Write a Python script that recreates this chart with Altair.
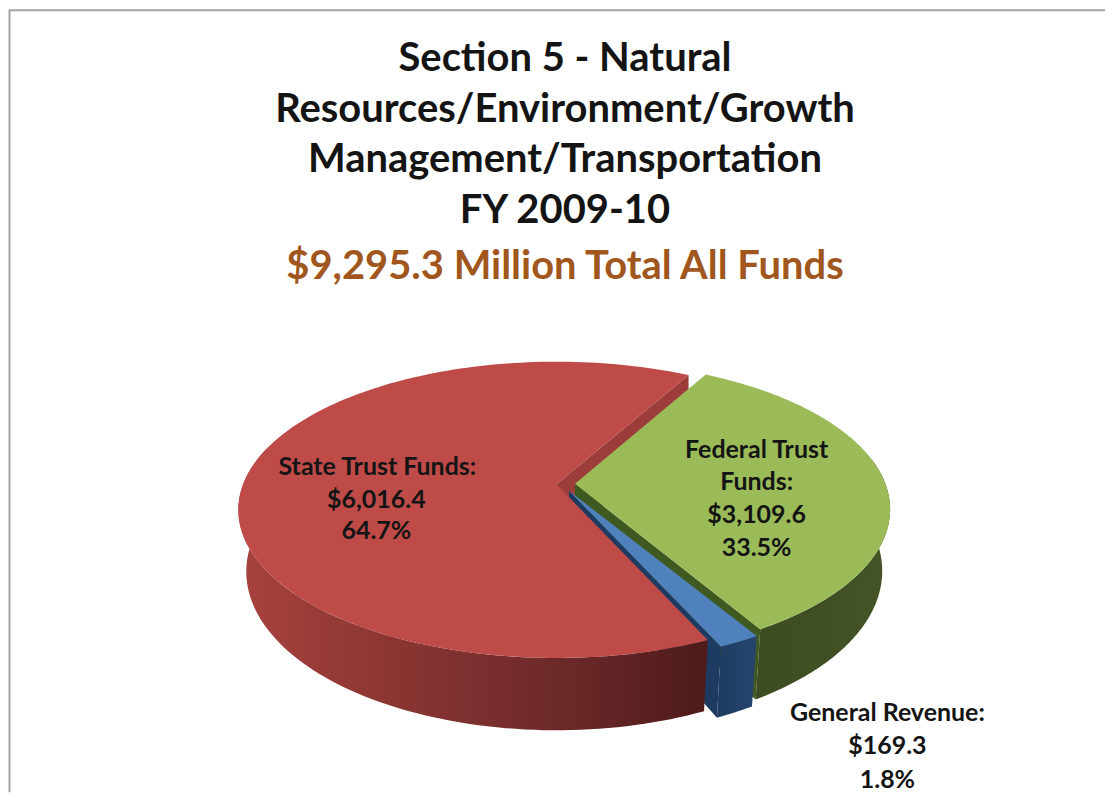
import numpy as np
import pandas as pd
import altair as alt

# ---- chart values -------------------------------------------------
CATEGORIES = ["Federal Trust Funds", "General Revenue", "State Trust Funds"]
AMOUNTS = [3109.6, 169.3, 6016.4]
SHARES = [33.5, 1.8, 64.7]
TITLE_LINES = [
    "Section 5 - Natural",
    "Resources/Environment/Growth",
    "Management/Transportation",
    "FY 2009-10",
]
SUBTITLE = "$9,295.3 Million Total All Funds"

# ---- drawing setup (how the pie is projected, not data) -------------
W, H = 1098, 784
START_DEG = 29.0          # pie rotation
RY, PERSP = 144.0, 0.172
DEPTH = 60.0
BOTTOM_SCALE = 0.975
RADIUS = {"Federal Trust Funds": 311.0, "General Revenue": 315.0, "State Trust Funds": 314.0}
APEX = {"Federal Trust Funds": (575, 483), "General Revenue": (569, 490), "State Trust Funds": (556.5, 483.5)}
COLORS = {
    "Federal Trust Funds": dict(top="#9BBB59", cut="#3F5A20", wall=["#3C4C20", "#445427"]),
    "General Revenue": dict(top="#4F81BD", cut="#1D3A61", wall=["#1F3B60", "#25456F"]),
    "State Trust Funds": dict(top="#BE4B48", cut="#9C3D3B", wall=["#A8423F", "#8A3532", "#6E2A2A", "#4E1A1A"]),
}


def rim(c, deg):
    apex = APEX[c]
    t = np.radians(deg)
    s = 1.0 / (1.0 + PERSP * np.cos(t))
    return apex[0] + RADIUS[c] * np.sin(t) * s, apex[1] - RY * np.cos(t) * s, DEPTH * s


def low(c, deg):
    apex = APEX[c]
    x, y, d = rim(c, deg)
    return apex[0] + BOTTOM_SCALE * (x - apex[0]), y + d


def polygon(points):
    xs, ys = zip(*points)
    return pd.DataFrame({"x": xs, "y": ys, "i": range(len(xs))})


total = sum(AMOUNTS)
edges = np.concatenate([[0.0], np.cumsum(AMOUNTS)]) / total * 360.0 + START_DEG
span = {c: (edges[i], edges[i + 1]) for i, c in enumerate(CATEGORIES)}

x_enc = alt.X("x:Q", axis=None, scale=alt.Scale(domain=[8, 8 + W], nice=False, zero=False))
y_enc = alt.Y("y:Q", axis=None, scale=alt.Scale(domain=[8 + H, 8], nice=False, zero=False))


def shape(points, fill):
    return (
        alt.Chart(polygon(points))
        .mark_line(fill=fill, strokeWidth=0, interpolate="linear-closed", clip=False)
        .encode(x=x_enc, y=y_enc, order="i:Q")
    )


def grad(colors):
    n = len(colors) - 1
    return alt.LinearGradient(
        gradient="linear", x1=0, x2=1, y1=0, y2=0,
        stops=[alt.GradientStop(offset=k / n, color=c) for k, c in enumerate(colors)],
    )


layers = []
# frame: only the top and left edges show in the picture
frame_src = pd.DataFrame({"a": [0]})
layers.append(alt.Chart(frame_src).mark_rule(color="#A3A3A3", strokeWidth=2).encode(
    x=alt.value(0.5), y=alt.value(0), y2=alt.value(H)))
layers.append(alt.Chart(frame_src).mark_rule(color="#A3A3A3", strokeWidth=2).encode(
    y=alt.value(0.5), x=alt.value(0), x2=alt.value(W)))

# cut face of the big slice sits at the back, under the green slice
red = "State Trust Funds"
a = APEX[red]
a0 = span[red][1] - 360.0
pr = rim(red, a0)[:2]
layers.append(shape([(a[0], a[1]), pr, (pr[0], pr[1] + DEPTH), (a[0], a[1] + DEPTH)], COLORS[red]["cut"]))

for c in CATEGORIES:
    a = APEX[c]
    d0, d1 = span[c]
    col = COLORS[c]
    # cut face at the clockwise end of the slice
    if c != red:
        p = rim(c, d1)[:2]
        layers.append(shape([(a[0], a[1]), p, low(c, d1), (a[0], a[1] + DEPTH)], col["cut"]))
    # outer wall, only the part that faces the viewer
    w0, w1 = max(d0, 80.0), min(d1, 285.0)
    arc = np.linspace(w0, w1, 90)
    layers.append(
        shape([rim(c, t)[:2] for t in arc] + [low(c, t) for t in arc[::-1]], grad(col["wall"]))
    )
    # top face
    arc = np.linspace(d0, d1, 160)
    layers.append(shape([(a[0], a[1])] + [rim(c, t)[:2] for t in arc], col["top"]))

# ---- slice labels ---------------------------------------------------
money = [f"${v:,.1f}" for v in AMOUNTS]
pct = [f"{v:.1f}%" for v in SHARES]
labels = pd.DataFrame(
    {
        "x": [757, 757, 757, 757, 888, 888, 888, 377, 376, 376],
        "y": [449, 481, 514, 547, 713, 746, 780, 466, 499, 530],
        "t": ["Federal Trust", "Funds:", money[0], pct[0],
              "General Revenue:", money[1], pct[1],
              "State Trust Funds:", money[2], pct[2]],
    }
)
layers.append(
    alt.Chart(labels)
    .mark_text(font="Lato", fontWeight="bold", fontSize=25, color="#141414", align="center", baseline="middle")
    .encode(x=x_enc, y=y_enc, text="t:N")
)

chart = (
    alt.layer(*layers)
    .properties(
        width=W,
        height=H,
        padding=0,
        title=alt.TitleParams(
            text=TITLE_LINES,
            subtitle=SUBTITLE,
            anchor="middle",
            offset=-279,
            dx=8,
            font="Lato",
            fontSize=40,
            fontWeight="bold",
            color="#141414",
            lineHeight=51,
            subtitleFont="Lato",
            subtitleFontSize=40,
            subtitleFontWeight="bold",
            subtitleColor="#A0561C",
            subtitlePadding=16,
        ),
    )
    .configure_view(strokeWidth=0)
)

chart.save("out.html", embed_options={"renderer": "svg", "actions": False})
